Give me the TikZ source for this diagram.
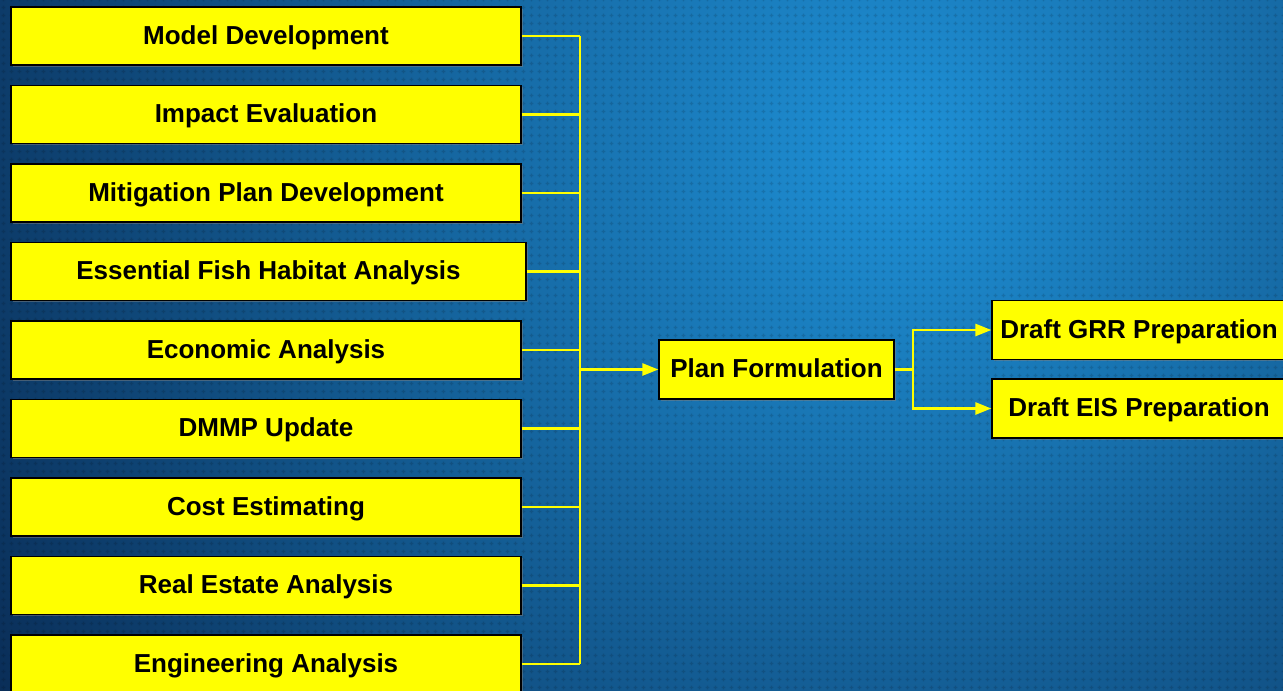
\documentclass[tikz,border=0pt]{standalone}
\usepackage{fontspec}
\setmainfont{Liberation Sans}
\usetikzlibrary{positioning,arrows.meta,shadows,patterns}
\definecolor{boxyellow}{RGB}{255,255,0}
\definecolor{bglight}{RGB}{30,145,215}
\definecolor{bgdark}{RGB}{10,46,88}
\pgfdeclarepatternformonly{bgcrosses}{\pgfpointorigin}{\pgfpoint{7.5pt}{7.5pt}}{\pgfpoint{7.5pt}{7.5pt}}{%
  \pgfpathrectangle{\pgfpoint{3pt}{1.75pt}}{\pgfpoint{1.5pt}{4pt}}%
  \pgfpathrectangle{\pgfpoint{1.75pt}{3pt}}{\pgfpoint{4pt}{1.5pt}}%
  \pgfusepath{fill}}
\begin{document}
\begin{tikzpicture}[x=1pt,y=1pt,node distance=78.5pt,on grid,
    task/.style={draw=black,line width=1.2pt,fill=boxyellow,
      minimum width=510pt,minimum height=58pt,inner sep=0pt,
      text height=18pt,text depth=2pt,
      font=\fontsize{26}{30}\selectfont\bfseries,
      drop shadow={shadow xshift=1.5pt,shadow yshift=-1.5pt,opacity=0.5}},
    link/.style={draw=boxyellow,line width=2.6pt},
    >={Triangle[length=16pt,width=12pt]}]
  \useasboundingbox (0,0) rectangle (1283,-691);
  % background
  \begin{scope}
    \clip (0,0) rectangle (1283,-691);
    \shade[inner color=bglight,outer color=bgdark] (900,-150) circle (1050);
    \fill[pattern=bgcrosses,pattern color=black,opacity=0.13] (0,0) rectangle (1283,-691);
  \end{scope}
  % input tasks
  \node[task] (model) at (266,-36) {Model Development};
  \node[task] (impact) [below=of model] {Impact Evaluation};
  \node[task] (mitigation) [below=of impact] {Mitigation Plan Development};
  \node[task,minimum width=515pt] (fish) [below=of mitigation,xshift=2.5pt] {Essential Fish Habitat Analysis};
  \node[task] (economic) [below=of mitigation,yshift=-78.5pt] {Economic Analysis};
  \node[task] (dmmp) [below=of economic] {DMMP Update};
  \node[task] (cost) [below=of dmmp] {Cost Estimating};
  \node[task] (realestate) [below=of cost] {Real Estate Analysis};
  \node[task] (engineering) [below=of realestate] {Engineering Analysis};
  % plan and outputs
  \node[task,minimum width=235pt,minimum height=59pt] (plan) at (776.5,-369.5) {Plan Formulation};
  \node[task,minimum width=294pt,minimum height=59pt] (grr) at (1139,-330) {Draft GRR Preparation};
  \node[task,minimum width=294pt,minimum height=59pt] (eis) at (1139,-408.5) {Draft EIS Preparation};
  \coordinate (bus) at (580,-369.5);
  \coordinate (split) at (913,-369.5);
  % connectors
  \foreach \n in {model,impact,mitigation,fish,economic,dmmp,cost,realestate,engineering}
    \draw[link] (\n.east) -- (\n.east -| bus);
  \draw[link] (model.east -| bus) -- (engineering.east -| bus);
  \draw[link,->] (bus) -- (plan.west);
  \draw[link] (plan.east) -- (split);
  \draw[link,->] (split) |- (grr.west);
  \draw[link,->] (split) |- (eis.west);
\end{tikzpicture}
\end{document}
